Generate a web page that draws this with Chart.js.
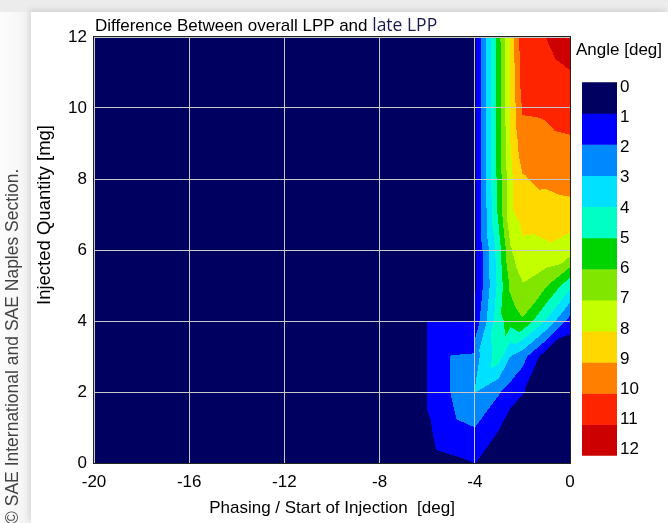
<!DOCTYPE html>
<html>
<head>
<meta charset="utf-8">
<script src="https://cdn.jsdelivr.net/npm/chart.js@4.4.1/dist/chart.umd.min.js"></script>
<style>
  body { margin: 0; background: #fff; font-family: "Liberation Sans", Arial, sans-serif; }
  #wrap { position: relative; width: 668px; height: 523px; overflow: hidden; background: #ececec; }
  #panel { position: absolute; left: 31px; top: 12px; width: 637px; height: 511px; background: #fff; box-shadow: -2px -2px 6px rgba(0,0,0,0.12); }
  #leftband { position: absolute; left: 0; top: 12px; width: 31px; height: 511px; background: linear-gradient(90deg, #fdfdfd, #f2f2f2); }
  #main { position: absolute; left: 0; top: 0; }
  #bar { position: absolute; left: 582px; top: 69px; }
  .txt { position: absolute; color: #000; font-size: 17px; white-space: pre; }
  #title { left: 95px; top: 12px; }
  #title span { font-family: "Open Sans", sans-serif; font-size: 17.5px; color: #1a1a50; }
  #cbtitle { left: 576px; top: 40px; }
  #ytitle { left: 44px; top: 215px; font-size: 18.5px; transform: translate(-50%, -50%) rotate(-90deg); }
  #copy { left: 2px; top: 524px; transform: rotate(-90deg); transform-origin: left top; color: #444; font-size: 17.5px; }
</style>
</head>
<body>
<div id="wrap">
  <div id="leftband"></div>
  <div id="panel"></div>
  <canvas id="main" width="668" height="523"></canvas>
  <canvas id="bar" width="70" height="400"></canvas>
  <div class="txt" id="title">Difference Between overall LPP and <span>late LPP</span></div>
  <div class="txt" id="cbtitle">Angle [deg]</div>
  <div class="txt" id="ytitle">Injected Quantity [mg]</div>
  <div class="txt" id="copy">© SAE International and SAE Naples Section.</div>
</div>
<script>
// contour levels and colours (deg)
const levels = [0, 1, 2, 3, 4, 5, 6, 7, 8, 9, 10, 11, 12];
const bandColors = ['#000060', '#0000ff', '#0088ff', '#00e0ff', '#00ffc4', '#00d400',
                    '#80e600', '#c4ff00', '#ffd800', '#ff8000', '#ff2400', '#cc0000'];

// main measured region: phasing -4..0 deg, quantity 0..12 mg
const mainX = [-4, -3, -2.5, -2, -1, 0];
const mainY = [0, 1, 2, 3, 4, 5, 6, 7, 8, 9, 10, 11, 12];
const mainZ = [
  // -4    -3    -2.5  -2    -1     0
  [1.05, 0,    0,    0,    0,     0],     // 0
  [2.0,  1.1,  0.3,  0,    0,     0],     // 1
  [3.05, 2.1,  1.6,  1.1,  0,     0],     // 2
  [2.6,  4.5,  3.0,  2.4,  0.4,   0],     // 3
  [1.3,  4.7,  5.4,  5.9,  3.9,   1.6],   // 4
  [0.8,  4.3,  6.2,  6.9,  6.1,   4.3],   // 5
  [0.8,  4.5,  6.9,  7.8,  7.9,   7.6],   // 6
  [0.8,  5.2,  7.8,  8.3,  8.25,  8.4],   // 7
  [0.8,  5.4,  7.7,  8.9,  9.3,   9.6],   // 8
  [0.8,  5.5,  8.0,  9.6,  9.75,  9.85],  // 9
  [0.8,  5.5,  8.1,  10.1, 10.15, 10.45], // 10
  [0.8,  5.5,  8.2,  10.5, 10.5,  10.95], // 11
  [0.8,  5.6,  8.2,  10.6, 11.02, 11.8]   // 12
];

// small early-injection region: phasing -6..-4 deg, quantity 0..4 mg
const leftX = [-6, -5, -4];
const leftY = [0, 1, 2, 3, 4];
const leftZ = [
  [0.5, 0.75, 1.0],
  [0.8, 1.85, 2.0],
  [1.2, 2.02, 2.5],
  [1.3, 2.02, 2.05],
  [1.3, 1.5,  1.5]
];

const xTicksStep = 4;
const yTicksStep = 2;

Chart.defaults.font.family = '"Liberation Sans", Arial, sans-serif';
Chart.defaults.font.size = 17;
Chart.defaults.color = '#000';

function hexToRgb(h) {
  return [parseInt(h.substr(1, 2), 16), parseInt(h.substr(3, 2), 16), parseInt(h.substr(5, 2), 16)];
}
const bandRgb = bandColors.map(hexToRgb);

function findCell(g, v) {
  for (let i = 0; i < g.length - 1; i++) {
    if (v <= g[i + 1]) return i;
  }
  return g.length - 2;
}

// linear interpolation on triangles (cells split lower-left to upper-right)
function interp(gx, gy, gz, vx, vy) {
  const i = findCell(gx, vx), j = findCell(gy, vy);
  const fx = (vx - gx[i]) / (gx[i + 1] - gx[i]);
  const fy = (vy - gy[j]) / (gy[j + 1] - gy[j]);
  const z00 = gz[j][i], z10 = gz[j][i + 1], z01 = gz[j + 1][i], z11 = gz[j + 1][i + 1];
  if (fx >= fy) return z00 + fx * (z10 - z00) + fy * (z11 - z10);
  return z00 + fy * (z01 - z00) + fx * (z11 - z01);
}

function band(v) {
  for (let k = levels.length - 2; k >= 0; k--) {
    if (v >= levels[k]) return Math.min(k, bandColors.length - 1);
  }
  return 0;
}

function gridPoints(gx, gy) {
  const pts = [];
  gy.forEach(yv => gx.forEach(xv => pts.push({x: xv, y: yv})));
  return pts;
}

const contourPlugin = {
  id: 'contourFill',
  beforeDatasetsDraw(chart) {
    const {ctx, chartArea: a, scales: {x, y}} = chart;
    ctx.save();
    ctx.fillStyle = bandColors[0];
    ctx.fillRect(a.left, a.top, a.right - a.left, a.bottom - a.top);
    chart.data.datasets.forEach(ds => {
      const gx = ds.gridX, gy = ds.gridY, gz = ds.gridZ;
      const p0 = Math.round(x.getPixelForValue(gx[0]));
      const p1 = Math.round(x.getPixelForValue(gx[gx.length - 1]));
      const q0 = Math.round(y.getPixelForValue(gy[gy.length - 1]));
      const q1 = Math.round(y.getPixelForValue(gy[0]));
      const w = p1 - p0, h = q1 - q0;
      const off = document.createElement('canvas');
      off.width = w; off.height = h;
      const octx = off.getContext('2d');
      const img = octx.createImageData(w, h);
      for (let j = 0; j < h; j++) {
        const vy = y.getValueForPixel(q0 + j + 0.5);
        for (let i = 0; i < w; i++) {
          const vx = x.getValueForPixel(p0 + i + 0.5);
          const c = bandRgb[band(interp(gx, gy, gz, vx, vy))];
          const k = (j * w + i) * 4;
          img.data[k] = c[0]; img.data[k + 1] = c[1]; img.data[k + 2] = c[2]; img.data[k + 3] = 255;
        }
      }
      octx.putImageData(img, 0, 0);
      ctx.drawImage(off, p0, q0);
    });
    ctx.restore();
  },
  afterDraw(chart) {
    const {ctx, chartArea: a} = chart;
    ctx.save();
    ctx.strokeStyle = '#222';
    ctx.lineWidth = 1;
    ctx.strokeRect(a.left - 0.5, a.top - 0.5, a.right - a.left + 1, a.bottom - a.top + 1);
    ctx.restore();
  }
};

new Chart(document.getElementById('main'), {
  type: 'scatter',
  data: {
    datasets: [
      {label: 'early', data: gridPoints(leftX, leftY), gridX: leftX, gridY: leftY, gridZ: leftZ, pointRadius: 0},
      {label: 'main', data: gridPoints(mainX, mainY), gridX: mainX, gridY: mainY, gridZ: mainZ, pointRadius: 0}
    ]
  },
  options: {
    responsive: false,
    animation: false,
    devicePixelRatio: 1,
    layout: {padding: {left: 0, right: 98, top: 37, bottom: 0}},
    plugins: {legend: {display: false}, tooltip: {enabled: false}},
    scales: {
      x: {
        type: 'linear', min: -20, max: 0,
        ticks: {stepSize: xTicksStep, padding: 9},
        grid: {color: '#c8c8c8', z: 1, drawTicks: false},
        border: {display: false},
        title: {display: true, text: 'Phasing / Start of Injection  [deg]', padding: {top: 0, bottom: 4}},
        afterFit(s) { s.height = 60; }
      },
      y: {
        type: 'linear', min: 0, max: 12,
        ticks: {stepSize: yTicksStep, padding: 7},
        grid: {color: '#c8c8c8', z: 1, drawTicks: false},
        border: {display: false},
        afterFit(s) { s.width = 94; }
      }
    }
  },
  plugins: [contourPlugin]
});

// colour bar: bars on a hidden 0..12 axis, labels on a slightly wider axis like the original
new Chart(document.getElementById('bar'), {
  type: 'bar',
  data: {
    labels: [''],
    datasets: bandColors.map((c, i) => ({
      data: [levels[i + 1] - levels[i]],
      backgroundColor: c,
      barPercentage: 1,
      categoryPercentage: 1
    }))
  },
  options: {
    responsive: false,
    animation: false,
    devicePixelRatio: 1,
    layout: {padding: {top: 10, bottom: 11, left: 0, right: 0}},
    plugins: {legend: {display: false}, tooltip: {enabled: false}},
    scales: {
      x: {stacked: true, display: false},
      y: {stacked: true, min: 0, max: 12, reverse: true, display: false},
      yl: {
        type: 'linear', min: -0.16, max: 12.2, reverse: true, position: 'right',
        grid: {display: false, drawTicks: false},
        border: {display: false},
        ticks: {stepSize: 1, padding: 3, autoSkip: false, includeBounds: false},
        afterFit(s) { s.width = 35; }
      }
    }
  }
});
</script>
</body>
</html>
